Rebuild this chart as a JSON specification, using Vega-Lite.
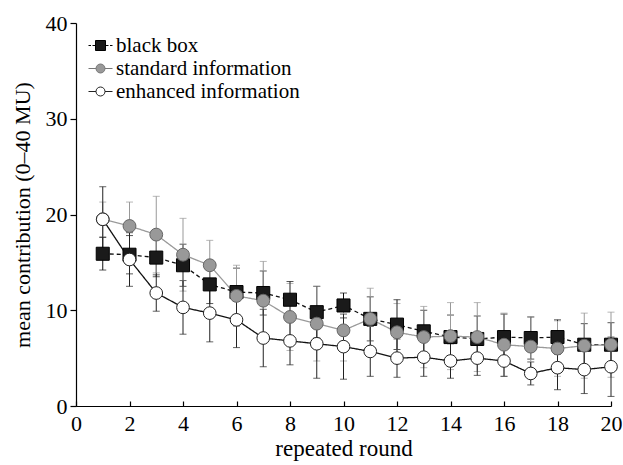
{
  "$schema": "https://vega.github.io/schema/vega-lite/v6.json",
  "width": 535,
  "height": 383,
  "autosize": {"type": "none"},
  "padding": {"left": 76, "top": 23, "right": 12, "bottom": 59},
  "background": "white",
  "config": {
    "view": {"stroke": null},
    "font": "Liberation Serif",
    "axis": {"grid": false, "domainColor": "#000", "tickColor": "#000", "labelColor": "#000", "titleColor": "#000", "labelFont": "Liberation Serif", "titleFont": "Liberation Serif", "labelFontSize": 22, "titleFontSize": 22, "titleFontWeight": "normal", "domainWidth": 1.2, "tickWidth": 1.2},
    "legend": {"labelFont": "Liberation Serif", "labelFontSize": 21, "labelColor": "#000", "padding": 0, "rowPadding": 1, "symbolStrokeWidth": 1, "labelLimit": 400, "orient": "none", "legendX": 14, "legendY": 12, "symbolSize": 400, "labelOffset": 5}
  },
  "data": {"values": [
    {"round":1,"group":"black box","mean":15.9,"err":1.7},
    {"round":2,"group":"black box","mean":15.8,"err":2.0},
    {"round":3,"group":"black box","mean":15.5,"err":2.0},
    {"round":4,"group":"black box","mean":14.7,"err":2.2},
    {"round":5,"group":"black box","mean":12.7,"err":2.0},
    {"round":6,"group":"black box","mean":11.9,"err":2.5},
    {"round":7,"group":"black box","mean":11.8,"err":2.3},
    {"round":8,"group":"black box","mean":11.1,"err":1.9},
    {"round":9,"group":"black box","mean":9.8,"err":2.7},
    {"round":10,"group":"black box","mean":10.5,"err":1.3},
    {"round":11,"group":"black box","mean":9.1,"err":2.3},
    {"round":12,"group":"black box","mean":8.5,"err":2.6},
    {"round":13,"group":"black box","mean":7.8,"err":2.2},
    {"round":14,"group":"black box","mean":7.2,"err":2.3},
    {"round":15,"group":"black box","mean":7.0,"err":2.4},
    {"round":16,"group":"black box","mean":7.2,"err":2.4},
    {"round":17,"group":"black box","mean":7.1,"err":2.2},
    {"round":18,"group":"black box","mean":7.2,"err":1.8},
    {"round":19,"group":"black box","mean":6.4,"err":2.2},
    {"round":20,"group":"black box","mean":6.4,"err":2.3},
    {"round":1,"group":"standard information","mean":19.5,"err":1.8},
    {"round":2,"group":"standard information","mean":18.8,"err":2.5},
    {"round":3,"group":"standard information","mean":17.9,"err":4.0},
    {"round":4,"group":"standard information","mean":15.8,"err":3.8},
    {"round":5,"group":"standard information","mean":14.7,"err":2.6},
    {"round":6,"group":"standard information","mean":11.5,"err":3.2},
    {"round":7,"group":"standard information","mean":11.0,"err":4.1},
    {"round":8,"group":"standard information","mean":9.3,"err":3.5},
    {"round":9,"group":"standard information","mean":8.6,"err":3.9},
    {"round":10,"group":"standard information","mean":7.9,"err":3.2},
    {"round":11,"group":"standard information","mean":9.1,"err":3.2},
    {"round":12,"group":"standard information","mean":7.7,"err":3.0},
    {"round":13,"group":"standard information","mean":7.2,"err":3.2},
    {"round":14,"group":"standard information","mean":7.3,"err":3.5},
    {"round":15,"group":"standard information","mean":7.2,"err":3.6},
    {"round":16,"group":"standard information","mean":6.4,"err":3.3},
    {"round":17,"group":"standard information","mean":6.2,"err":3.1},
    {"round":18,"group":"standard information","mean":6.0,"err":2.9},
    {"round":19,"group":"standard information","mean":6.3,"err":3.4},
    {"round":20,"group":"standard information","mean":6.4,"err":3.4},
    {"round":1,"group":"enhanced information","mean":19.5,"err":3.4},
    {"round":2,"group":"enhanced information","mean":15.3,"err":2.8},
    {"round":3,"group":"enhanced information","mean":11.8,"err":1.9},
    {"round":4,"group":"enhanced information","mean":10.3,"err":2.8},
    {"round":5,"group":"enhanced information","mean":9.7,"err":3.0},
    {"round":6,"group":"enhanced information","mean":9.0,"err":2.9},
    {"round":7,"group":"enhanced information","mean":7.1,"err":3.0},
    {"round":8,"group":"enhanced information","mean":6.8,"err":2.5},
    {"round":9,"group":"enhanced information","mean":6.5,"err":3.6},
    {"round":10,"group":"enhanced information","mean":6.2,"err":3.4},
    {"round":11,"group":"enhanced information","mean":5.7,"err":2.6},
    {"round":12,"group":"enhanced information","mean":5.0,"err":2.0},
    {"round":13,"group":"enhanced information","mean":5.1,"err":2.0},
    {"round":14,"group":"enhanced information","mean":4.7,"err":1.8},
    {"round":15,"group":"enhanced information","mean":5.0,"err":1.8},
    {"round":16,"group":"enhanced information","mean":4.7,"err":1.6},
    {"round":17,"group":"enhanced information","mean":3.4,"err":1.2},
    {"round":18,"group":"enhanced information","mean":4.0,"err":2.3},
    {"round":19,"group":"enhanced information","mean":3.8,"err":2.5},
    {"round":20,"group":"enhanced information","mean":4.1,"err":3.1}
  ]},
  "encoding": {
    "x": {"field": "round", "type": "quantitative", "scale": {"domain": [0, 20], "nice": false, "zero": false}, "axis": {"values": [0,2,4,6,8,10,12,14,16,18,20], "title": "repeated round", "tickSize": -5, "labelPadding": 12, "titlePadding": 3, "titleFontSize": 23, "labelFlush": false}}
  },
  "layer": [
    {
      "mark": {"type": "errorbar", "ticks": {"size": 7, "strokeWidth": 1}, "rule": {"strokeWidth": 1}},
      "encoding": {
        "y": {"field": "mean", "type": "quantitative", "scale": {"domain": [0, 40], "nice": false}, "axis": {"values": [0,10,20,30,40], "title": "mean contribution (0–40 MU)", "tickSize": 6, "labelPadding": 3, "titlePadding": 11}},
        "yError": {"field": "err"},
        "detail": {"field": "group"},
        "color": {"field": "group", "type": "nominal", "scale": {"domain": ["black box","standard information","enhanced information"], "range": ["#111","#999","#222"]}, "legend": null}
      }
    },
    {
      "mark": {"type": "line", "strokeWidth": 1.3},
      "encoding": {
        "y": {"field": "mean", "type": "quantitative"},
        "detail": {"field": "group"},
        "stroke": {"field": "group", "type": "nominal", "scale": {"domain": ["black box","standard information","enhanced information"], "range": ["#111","#9a9a9a","#111"]}, "legend": null},
        "strokeDash": {"field": "group", "type": "nominal", "scale": {"domain": ["black box","standard information","enhanced information"], "range": [[4,3],[1,0],[1,0]]}, "legend": null}
      }
    },
    {
      "mark": {"type": "point", "filled": true, "opacity": 1, "strokeWidth": 1},
      "encoding": {
        "y": {"field": "mean", "type": "quantitative"},
        "shape": {"field": "group", "type": "nominal", "scale": {"domain": ["black box","standard information","enhanced information"], "range": ["square","circle","circle"]}, "legend": null},
        "size": {"field": "group", "type": "nominal", "scale": {"domain": ["black box","standard information","enhanced information"], "range": [170,160,160]}, "legend": null},
        "fill": {"field": "group", "type": "nominal", "scale": {"domain": ["black box","standard information","enhanced information"], "range": ["#1a1a1a","#999999","#ffffff"]}, "legend": null},
        "stroke": {"field": "group", "type": "nominal", "scale": {"domain": ["black box","standard information","enhanced information"], "range": ["#000000","#666666","#222222"]}, "legend": null}
      }
    },
    {
      "transform": [{"filter": "datum.round < 0"}],
      "mark": {"type": "point", "filled": true, "opacity": 1, "strokeWidth": 1},
      "encoding": {
        "y": {"field": "mean", "type": "quantitative"},
        "shape": {"field": "group", "type": "nominal", "scale": {"domain": ["black box","standard information","enhanced information"], "range": ["M-1.2,0H-0.95M-0.8,0H-0.55M0.55,0H0.8M0.95,0H1.2M-0.5,-0.5H0.5V0.5H-0.5Z", "M-1.2,0H-0.45M0.45,0H1.2M-0.45,0A0.45,0.45,0,1,1,0.45,0A0.45,0.45,0,1,1,-0.45,0Z", "M-1.2,0H-0.45M0.45,0H1.2M-0.45,0A0.45,0.45,0,1,1,0.45,0A0.45,0.45,0,1,1,-0.45,0Z"]}, "legend": {"title": null}},
        "fill": {"field": "group", "type": "nominal", "scale": {"domain": ["black box","standard information","enhanced information"], "range": ["#1a1a1a","#999999","#ffffff"]}, "legend": {"title": null}},
        "stroke": {"field": "group", "type": "nominal", "scale": {"domain": ["black box","standard information","enhanced information"], "range": ["#000000","#777777","#222222"]}, "legend": {"title": null}}
      }
    }
  ],
  "resolve": {"scale": {"stroke": "independent", "fill": "independent", "shape": "independent"}}
}
